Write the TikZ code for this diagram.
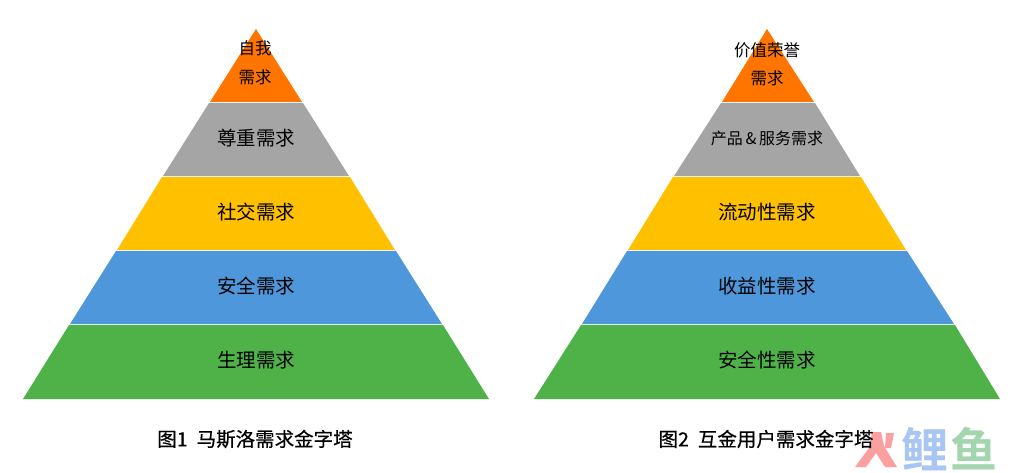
\documentclass[tikz,border=0pt]{standalone}
\usepackage{fontspec}
\setmainfont{Noto Sans CJK SC}
\newfontfamily\capfont[FakeBold=0.5]{Noto Sans CJK SC}
\newfontfamily\markfont{Noto Sans CJK SC Bold}
\usepackage{tikz}
\usetikzlibrary{positioning}
\definecolor{toporange}{HTML}{FF7500}
\definecolor{bandgray}{HTML}{A5A5A5}
\definecolor{bandgold}{HTML}{FFC000}
\definecolor{bandblue}{HTML}{4E97DA}
\definecolor{bandgreen}{HTML}{4FB249}
\definecolor{markred}{HTML}{FB9FA0}
\definecolor{markblue}{HTML}{A9C6F2}
\definecolor{markgreen}{HTML}{A3D5AF}
\tikzset{
  band/.style={fill=#1,draw=none},
  bandtext/.style={font=\fontsize{19.5}{19.5}\selectfont,text=black,inner sep=0pt},
  toptext/.style={font=\fontsize{16.5}{16.5}\selectfont,text=black,inner sep=0pt},
  smalltext/.style={font=\fontsize{16}{16}\selectfont,text=black,inner sep=0pt},
  captext/.style={font=\capfont\fontsize{19.5}{19.5}\selectfont,text=black,inner sep=0pt},
  marktext/.style={font=\markfont\fontsize{47}{47}\selectfont,inner sep=0pt,text=#1},
}
\begin{document}
\begin{tikzpicture}[x=1pt,y=-1pt]
  \useasboundingbox (0,0) rectangle (1021,473);
  % left pyramid
  \fill[band=toporange] (256,29) -- (302,102) -- (210,102) -- cycle;
  \fill[band=bandgray] (209,103) -- (303,103) -- (349,176) -- (163,176) -- cycle;
  \fill[band=bandgold] (162,177) -- (350,177) -- (395,250) -- (117,250) -- cycle;
  \fill[band=bandblue] (116,251) -- (396,251) -- (442,324) -- (70,324) -- cycle;
  \fill[band=bandgreen] (69,325) -- (443,325) -- (489,399) -- (23,399) -- cycle;
  \node[toptext] (selfa) at (255,48) {自我};
  \node[toptext] (selfb) at (255,77) {需求};
  \node[bandtext] (esteem) at (256,138) {尊重需求};
  \node[bandtext] (social) at (256,212) {社交需求};
  \node[bandtext] (safety) at (256,286) {安全需求};
  \node[bandtext] (body) at (256,360) {生理需求};
  \node[captext] (capleft) at (255,439) {图1\hspace{9pt}马斯洛需求金字塔};
  % right pyramid
  \fill[band=toporange] (767,29) -- (814,102) -- (722,102) -- cycle;
  \fill[band=bandgray] (721,103) -- (815,103) -- (860,176) -- (674,176) -- cycle;
  \fill[band=bandgold] (673,177) -- (861,177) -- (906,250) -- (628,250) -- cycle;
  \fill[band=bandblue] (627,251) -- (907,251) -- (954,324) -- (582,324) -- cycle;
  \fill[band=bandgreen] (581,325) -- (955,325) -- (1000,399) -- (534,399) -- cycle;
  \node[toptext] (valuea) at (767,50) {价值荣誉};
  \node[toptext] (valueb) at (767,78) {需求};
  \node[smalltext] (product) at (767,138) {产品\,\&\,服务需求};
  \node[bandtext] (flow) at (767,212) {流动性需求};
  \node[bandtext] (yield) at (767,286) {收益性需求};
  \node[bandtext] (secure) at (767,360) {安全性需求};
  % watermark
  \fill[markred] (872,432) -- (881,432) -- (884,446) -- (897,467) -- (885,467) -- (876,453) -- (866,467) -- (855,467) -- (869,448) -- cycle;
  \fill[markred] (886,433) -- (894,433) -- (891,448) -- (885,448) -- cycle;
  \node[marktext=markblue] (markli) at (925,449) {鲤};
  \node[marktext=markgreen] (markyu) at (974,449) {鱼};
  \node[captext] (capright) at (766,439) {图2\hspace{9pt}互金用户需求金字塔};
\end{tikzpicture}
\end{document}
